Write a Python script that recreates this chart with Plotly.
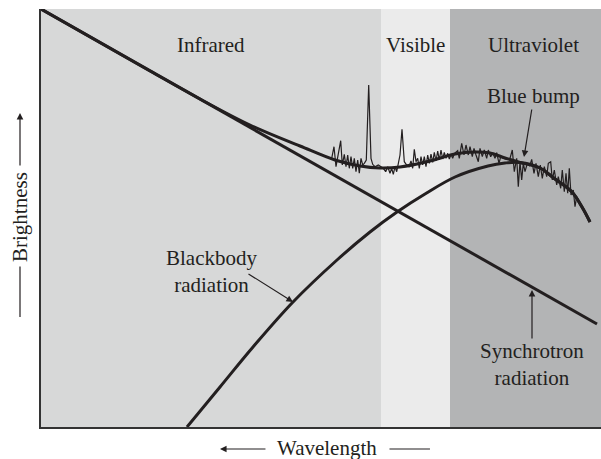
import plotly.graph_objects as go

# ---- data (arbitrary log-frequency / log-brightness units) ----
region_names = ["Infrared", "Visible", "Ultraviolet"]
region_edges = [0.0, 34.0, 40.9, 56.0]
region_colors = ["#d7d8d8", "#ebebeb", "#b3b4b5"]

synch_x = [0.0, 55.6]
synch_y = [41.8, 10.3]

bb_x = [14.6, 17.9, 21.2, 25.2, 29.6, 32.9, 35.6, 38.4, 41.4, 44.7, 46.4, 47.9, 49.9, 51.4, 53.1, 54.1, 54.9]
bb_y = [0.0, 4.0, 8.0, 12.5, 16.7, 19.5, 21.5, 23.3, 25.0, 26.1, 26.4, 26.45, 25.9, 24.8, 23.5, 22.0, 20.5]

sum_x = [0.0, 10.9, 15.9, 20.9, 25.9, 29.4, 31.9, 33.9, 35.9, 38.9, 41.4, 43.4, 44.9, 46.4, 47.9, 49.9, 51.4, 53.1, 54.1, 54.9]
sum_y = [41.8, 35.6, 32.8, 30.2, 28.1, 26.7, 26.1, 25.9, 26.0, 26.6, 27.3, 27.5, 27.4, 26.9, 26.45, 25.9, 24.8, 23.5, 22.0, 20.5]

obs_x = [29.07, 29.3, 29.5, 29.73, 29.97, 30.13, 30.33, 30.5, 30.67, 30.83, 31.0, 31.17, 31.33, 31.5, 31.67,
         31.83, 32.0, 32.17, 32.33, 32.53, 32.77, 33.0, 33.17, 33.4, 33.73, 34.0, 34.23, 34.47, 34.67, 34.9,
         35.07, 35.23, 35.4, 35.57, 35.73, 35.9, 36.1, 36.33, 36.57, 36.8, 37.0, 37.17, 37.33, 37.5, 37.67,
         37.83, 38.0, 38.17, 38.33, 38.5, 38.67, 38.83, 39.0, 39.17, 39.33, 39.5, 39.67, 39.83, 40.0, 40.17,
         40.33, 40.5, 40.67, 40.83, 41.0, 41.17, 41.33, 41.67, 41.83, 42.07, 42.3, 42.5, 42.73, 42.9, 43.13,
         43.3, 43.5, 43.73, 43.9, 44.13, 44.33, 44.57, 44.73, 44.97, 45.17, 45.4, 45.57, 45.8, 45.97, 46.23,
         46.57, 46.9, 47.13, 47.33, 47.57, 47.73, 47.9, 48.07, 48.23, 48.4, 48.63, 48.87, 49.07, 49.3, 49.5,
         49.73, 49.93, 50.13, 50.33, 50.57, 50.73, 50.97, 51.13, 51.33, 51.57, 51.73, 51.97, 52.13, 52.33, 52.5,
         52.67, 52.83, 53.0, 53.23, 53.4, 53.57, 53.73]
obs_y = [26.87, 28.03, 26.03, 27.2, 28.63, 26.2, 27.27, 26.03, 27.2, 25.87, 27.03, 25.87, 26.87, 25.53, 26.7,
         25.37, 26.87, 26.2, 26.37, 26.7, 34.2, 26.87, 26.27, 26.03, 26.2, 26.03, 25.87, 25.53, 26.03, 25.37,
         25.87, 25.27, 26.03, 25.53, 26.37, 27.2, 29.77, 26.53, 26.2, 26.03, 26.6, 25.87, 27.77, 26.53, 26.87,
         25.87, 27.03, 26.2, 27.03, 26.03, 27.2, 26.37, 27.3, 26.47, 27.47, 26.6, 27.6, 26.7, 27.7, 26.8,
         27.47, 26.87, 27.37, 26.8, 27.27, 26.87, 27.33, 27.63, 26.87, 28.37, 27.2, 28.2, 27.2, 28.03, 27.03,
         27.87, 27.2, 26.53, 27.87, 27.03, 27.7, 26.87, 27.7, 27.03, 27.43, 26.87, 27.43, 26.37, 27.03, 26.87,
         26.77, 26.87, 27.7, 25.53, 26.87, 24.03, 26.53, 24.7, 26.37, 25.53, 26.37, 26.1, 26.77, 25.37, 26.37,
         25.03, 26.2, 24.87, 26.03, 25.03, 26.37, 26.53, 24.7, 25.7, 24.2, 25.03, 23.87, 25.7, 23.53, 25.37,
         23.37, 25.87, 23.2, 23.7, 22.03, 23.03, 22.53]

INK = "#231f20"
FONT = "Liberation Serif, Times New Roman, serif"
FS = 21

fig = go.Figure()

# background bands
for i, name in enumerate(region_names):
    fig.add_shape(type="rect", xref="x", yref="paper", x0=region_edges[i], x1=region_edges[i + 1],
                  y0=0, y1=1, fillcolor=region_colors[i], line=dict(width=0), layer="below")

fig.add_trace(go.Scatter(x=synch_x, y=synch_y, mode="lines", line=dict(color=INK, width=3), hoverinfo="skip"))
fig.add_trace(go.Scatter(x=bb_x, y=bb_y, mode="lines", line=dict(color=INK, width=3, shape="spline"), hoverinfo="skip"))
fig.add_trace(go.Scatter(x=sum_x, y=sum_y, mode="lines", line=dict(color=INK, width=3, shape="spline"), hoverinfo="skip"))
fig.add_trace(go.Scatter(x=obs_x, y=obs_y, mode="lines", line=dict(color=INK, width=1.2), hoverinfo="skip"))

ann = []
def txt(x, y, s, **kw):
    d = dict(x=x, y=y, xref="x", yref="y", text=s, showarrow=False,
             font=dict(family=FONT, size=FS, color=INK), xanchor="center", yanchor="middle")
    d.update(kw)
    ann.append(d)

def arrow(x, y, ax, ay, head=2):
    ann.append(dict(x=x, y=y, ax=ax, ay=ay, xref="x", yref="y", axref="x", ayref="y", text="",
                    showarrow=True, arrowhead=head, arrowsize=1.1, arrowwidth=1.2, arrowcolor=INK,
                    standoff=0, startstandoff=0))

txt(17.0, 38.2, "Infrared")
txt(37.4, 38.2, "Visible")
txt(49.2, 38.2, "Ultraviolet")
txt(49.2, 33.1, "Blue bump")
txt(17.0, 15.6, "Blackbody<br>radiation")
txt(49.1, 6.3, "Synchrotron<br>radiation")

arrow(48.3, 27.0, 49.1, 31.9)
arrow(25.2, 12.5, 20.6, 15.4)
arrow(49.1, 13.7, 49.1, 8.7)

# axis titles with arrows (paper coords)
ann.append(dict(x=0.5107, y=-0.0502, xref="paper", yref="paper", text="Wavelength", showarrow=False,
                font=dict(family=FONT, size=FS, color=INK), xanchor="center", yanchor="middle"))
ann.append(dict(x=0.3196, y=-0.0526, xref="paper", yref="paper", text="", showarrow=True, ax=47, ay=0,
                arrowhead=2, arrowsize=1.1, arrowwidth=1.2, arrowcolor=INK, standoff=0))
ann.append(dict(x=0.6946, y=-0.0526, xref="paper", yref="paper", text="", showarrow=True, ax=-42, ay=0,
                arrowhead=0, arrowwidth=1.2, arrowcolor=INK, standoff=0))
ann.append(dict(x=-0.0375, y=0.5024, xref="paper", yref="paper", text="Brightness", showarrow=False,
                textangle=-90, font=dict(family=FONT, size=FS, color=INK), xanchor="center", yanchor="middle"))
ann.append(dict(x=-0.0375, y=0.7512, xref="paper", yref="paper", text="", showarrow=True, ax=0, ay=54,
                arrowhead=2, arrowsize=1.1, arrowwidth=1.2, arrowcolor=INK, standoff=0))
ann.append(dict(x=-0.0375, y=0.2632, xref="paper", yref="paper", text="", showarrow=True, ax=0, ay=-52,
                arrowhead=0, arrowwidth=1.2, arrowcolor=INK, standoff=0))

fig.update_layout(
    width=601, height=459,
    margin=dict(l=41, r=0, t=9, b=32, autoexpand=False),
    paper_bgcolor="white", plot_bgcolor="#d7d8d8",
    showlegend=False,
    annotations=ann,
    xaxis=dict(range=[0, 56.0], showgrid=False, zeroline=False, showticklabels=False, ticks="",
               showline=True, linecolor="#333333", linewidth=1.5, mirror=False, fixedrange=True),
    yaxis=dict(range=[0, 41.8], showgrid=False, zeroline=False, showticklabels=False, ticks="",
               showline=True, linecolor="#333333", linewidth=1.5, mirror=False, fixedrange=True),
)

fig.write_html("out.html", config={"displayModeBar": False},
               post_script="document.body.style.margin='0';document.body.style.overflow='hidden';")
